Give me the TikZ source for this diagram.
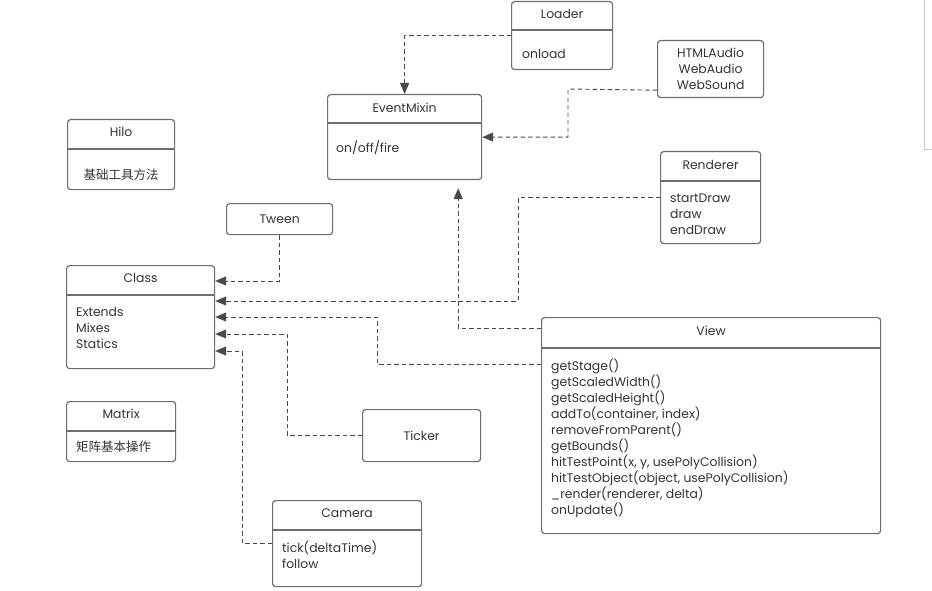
\documentclass[tikz,border=0pt]{standalone}
\usepackage{fontspec}
\setmainfont{Poppins}
\newfontfamily\cjk{Noto Sans CJK SC}
\usetikzlibrary{arrows.meta}

\definecolor{boxgray}{HTML}{6E6E6E}
\definecolor{linegray}{HTML}{4A4A4A}
\definecolor{textgray}{HTML}{333333}

\tikzset{
  umlbox/.style={draw=boxgray, line width=1.2pt, rounded corners=3pt, anchor=north west, inner sep=0pt},
  divider/.style={draw=boxgray, line width=1.2pt},
  title/.style={font=\fontsize{12.4}{14}\selectfont, text=textgray, inner sep=0pt},
  members/.style={font=\fontsize{12.4}{16}\selectfont, text=textgray, inner sep=0pt, align=left, anchor=west},
  dep/.style={draw=linegray, line width=0.9pt, dash pattern=on 4.5pt off 3pt, -{Triangle[length=11pt,width=9pt]}},
}

\begin{document}
\begin{tikzpicture}[x=1pt,y=-1pt]
\useasboundingbox (0,0) rectangle (932,591);

% BOXES
% top row
\node[umlbox, minimum width=101pt, minimum height=68pt] (loader) at (511,1) {};
\draw[divider] (loader.west |- 0,30) -- (loader.east |- 0,30);
\node[title] at (loader.north |- 0,14) {Loader};
\node[members] at (522,54) {onload};

\node[umlbox, minimum width=154pt, minimum height=85pt] (evt) at (327,94) {};
\draw[divider] (evt.west |- 0,123) -- (evt.east |- 0,123);
\node[title] at (evt.north |- 0,108) {EventMixin};
\node[members] at (336,148) {on/off/fire};

\node[umlbox, minimum width=106pt, minimum height=57pt] (audio) at (657,40) {};
\node[title, align=center, font=\fontsize{12.4}{16}\selectfont] at (audio.center) {HTMLAudio\\WebAudio\\WebSound};

\node[umlbox, minimum width=100pt, minimum height=92pt] (renderer) at (660,151) {};
\draw[divider] (renderer.west |- 0,181) -- (renderer.east |- 0,181);
\node[title] at (renderer.north |- 0,165) {Renderer};
\node[members] at (670,214) {startDraw\\draw\\endDraw};

% left column
\node[umlbox, minimum width=107pt, minimum height=70pt] (hilo) at (67,119) {};
\draw[divider] (hilo.west |- 0,149) -- (hilo.east |- 0,149);
\node[title] at (hilo.north |- 0,132) {Hilo};
\node[title, font=\cjk\fontsize{12.5}{14}\selectfont] at (hilo.north |- 0,175) {基础工具方法};

\node[umlbox, minimum width=106pt, minimum height=31pt] (tween) at (226,203) {};
\node[title] at (tween.center) {Tween};

\node[umlbox, minimum width=148pt, minimum height=103pt] (class) at (66,265) {};
\draw[divider] (class.west |- 0,295) -- (class.east |- 0,295);
\node[title] at (class.north |- 0,278) {Class};
\node[members] at (76,328) {Extends\\Mixes\\Statics};

\node[umlbox, minimum width=109pt, minimum height=60pt] (matrix) at (66,401) {};
\draw[divider] (matrix.west |- 0,431) -- (matrix.east |- 0,431);
\node[title] at (matrix.north |- 0,414) {Matrix};
\node[members, font=\cjk\fontsize{12.5}{14}\selectfont] at (76,447) {矩阵基本操作};

% bottom
\node[umlbox, minimum width=118pt, minimum height=52pt] (ticker) at (362,409) {};
\node[title] at (ticker.center) {Ticker};

\node[umlbox, minimum width=149pt, minimum height=86pt] (camera) at (272,500) {};
\draw[divider] (camera.west |- 0,530) -- (camera.east |- 0,530);
\node[title] at (camera.north |- 0,513) {Camera};
\node[members] at (282,555) {tick(deltaTime)\\follow};

\node[umlbox, minimum width=339pt, minimum height=216pt] (view) at (541,317) {};
\draw[divider] (view.west |- 0,348) -- (view.east |- 0,348);
\node[title] at (view.north |- 0,331) {View};
\node[members] at (551,438) {getStage()\\getScaledWidth()\\getScaledHeight()\\addTo(container, index)\\removeFromParent()\\getBounds()\\hitTestPoint(x, y, usePolyCollision)\\hitTestObject(object, usePolyCollision)\\\_render(renderer, delta)\\onUpdate()};

% CONNECTORS
\draw[dep] (loader.west) -| (evt.north);
\draw[dep] ([yshift=8pt]audio.south west) -- (568,89) |- (evt.east);
\draw[dep, shorten >=8pt] ([yshift=-11pt]view.north west) -| ([xshift=-24pt]evt.south east);
\draw[dep] (tween.south) |- ([yshift=-16pt]class.north east);
\draw[dep] (renderer.west) -| (518,301) -- ([yshift=-36pt]class.north east);
\draw[dep] ([yshift=-47pt]view.north west) -| (377,317) -- ([yshift=-52pt]class.north east);
\draw[dep] (ticker.west) -| (287,334) -- ([yshift=-69pt]class.north east);
\draw[dep] ([yshift=-43pt]camera.north west) -| (242,351) -- ([yshift=-86pt]class.north east);

% panel edge at right
\draw[black!20, line width=1pt] (924,0) -- (924,150) -- (932,150);

\end{tikzpicture}
\end{document}
